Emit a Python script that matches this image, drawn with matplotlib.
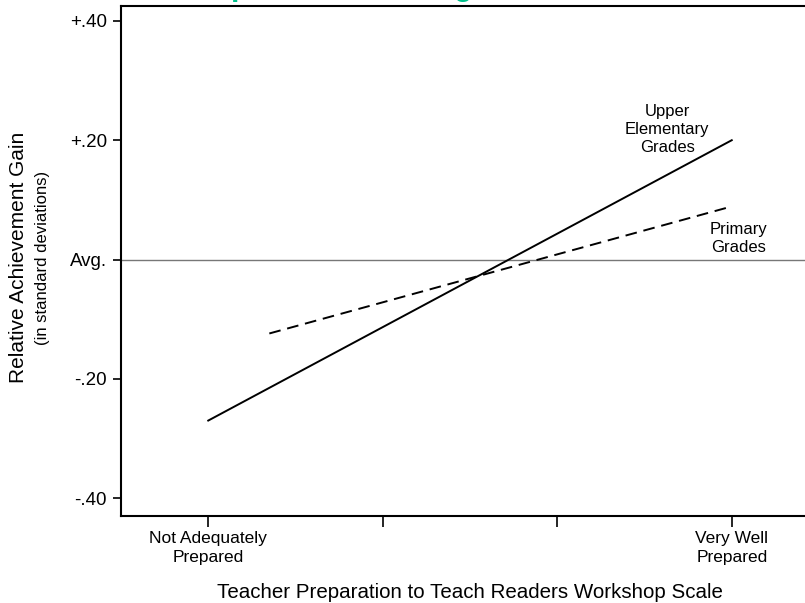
import matplotlib.pyplot as plt

plt.rcParams["font.family"] = ["Liberation Sans", "DejaVu Sans"]

# Scale positions (1 = not adequately prepared, 4 = very well prepared)
x_ticks = [1, 2, 3, 4]
x_tick_labels = ["Not Adequately\nPrepared", "", "", "Very Well\nPrepared"]
y_ticks = [-0.40, -0.20, 0.0, 0.20, 0.40]
y_tick_labels = ["-.40", "-.20", "Avg.", "+.20", "+.40"]

# Fitted lines
upper_x = [1, 4]
upper_y = [-0.27, 0.20]
primary_x = [1.35, 4]
primary_y = [-0.124, 0.089]

W, H = 805, 603
fig = plt.figure(figsize=(W / 100, H / 100), dpi=100)

# axes run off the right edge of the picture (cropped slide)
left, right, top, bottom = 121, 819, 6, 516
ax = fig.add_axes([left / W, 1 - bottom / H, (right - left) / W, (bottom - top) / H])
ax.set_xlim(0.5, 4.5)
ax.set_ylim(-0.43, 0.425)

ax.axhline(0, color="#777777", lw=1.0)
ax.plot(upper_x, upper_y, color="black", lw=1.4)
ax.plot(primary_x, primary_y, color="black", lw=1.4, dashes=(6, 3.5))

ax.text(3.63, 0.218, "Upper\nElementary\nGrades", ha="center", va="center",
        fontsize=12, linespacing=1.25)
ax.text(4.04, 0.036, "Primary\nGrades", ha="center", va="center",
        fontsize=12, linespacing=1.25)

ax.set_xticks(x_ticks)
ax.set_xticklabels(x_tick_labels, fontsize=12.5, linespacing=1.3)
ax.set_yticks(y_ticks)
ax.set_yticklabels(y_tick_labels, fontsize=13.5)
ax.tick_params(axis="x", length=8, width=1.2, direction="out", pad=3)
ax.tick_params(axis="y", length=6, width=1.2, direction="out", pad=4)
ax.spines["right"].set_visible(False)
for s in ["left", "bottom", "top"]:
    ax.spines[s].set_linewidth(1.5)

fig.text(19 / W, 1 - 257 / H, "Relative Achievement Gain", rotation=90,
         ha="center", va="center", fontsize=15)
fig.text(43 / W, 1 - 258 / H, "(in standard deviations)", rotation=90,
         ha="center", va="center", fontsize=12)
fig.text(470 / W, 1 - 592 / H, "Teacher Preparation to Teach Readers Workshop Scale",
         ha="center", va="center", fontsize=14.8)

# green slide title, mostly cut off above the picture
fig.text(463 / W, 1 + 5 / H, "g", color="#00C08B", fontsize=22,
         fontweight="bold", ha="center", va="baseline")
fig.text(240 / W, 1 + 5 / H, "p", color="#00C08B", fontsize=22,
         fontweight="bold", ha="center", va="baseline")

fig.savefig("out.png", dpi=100)
